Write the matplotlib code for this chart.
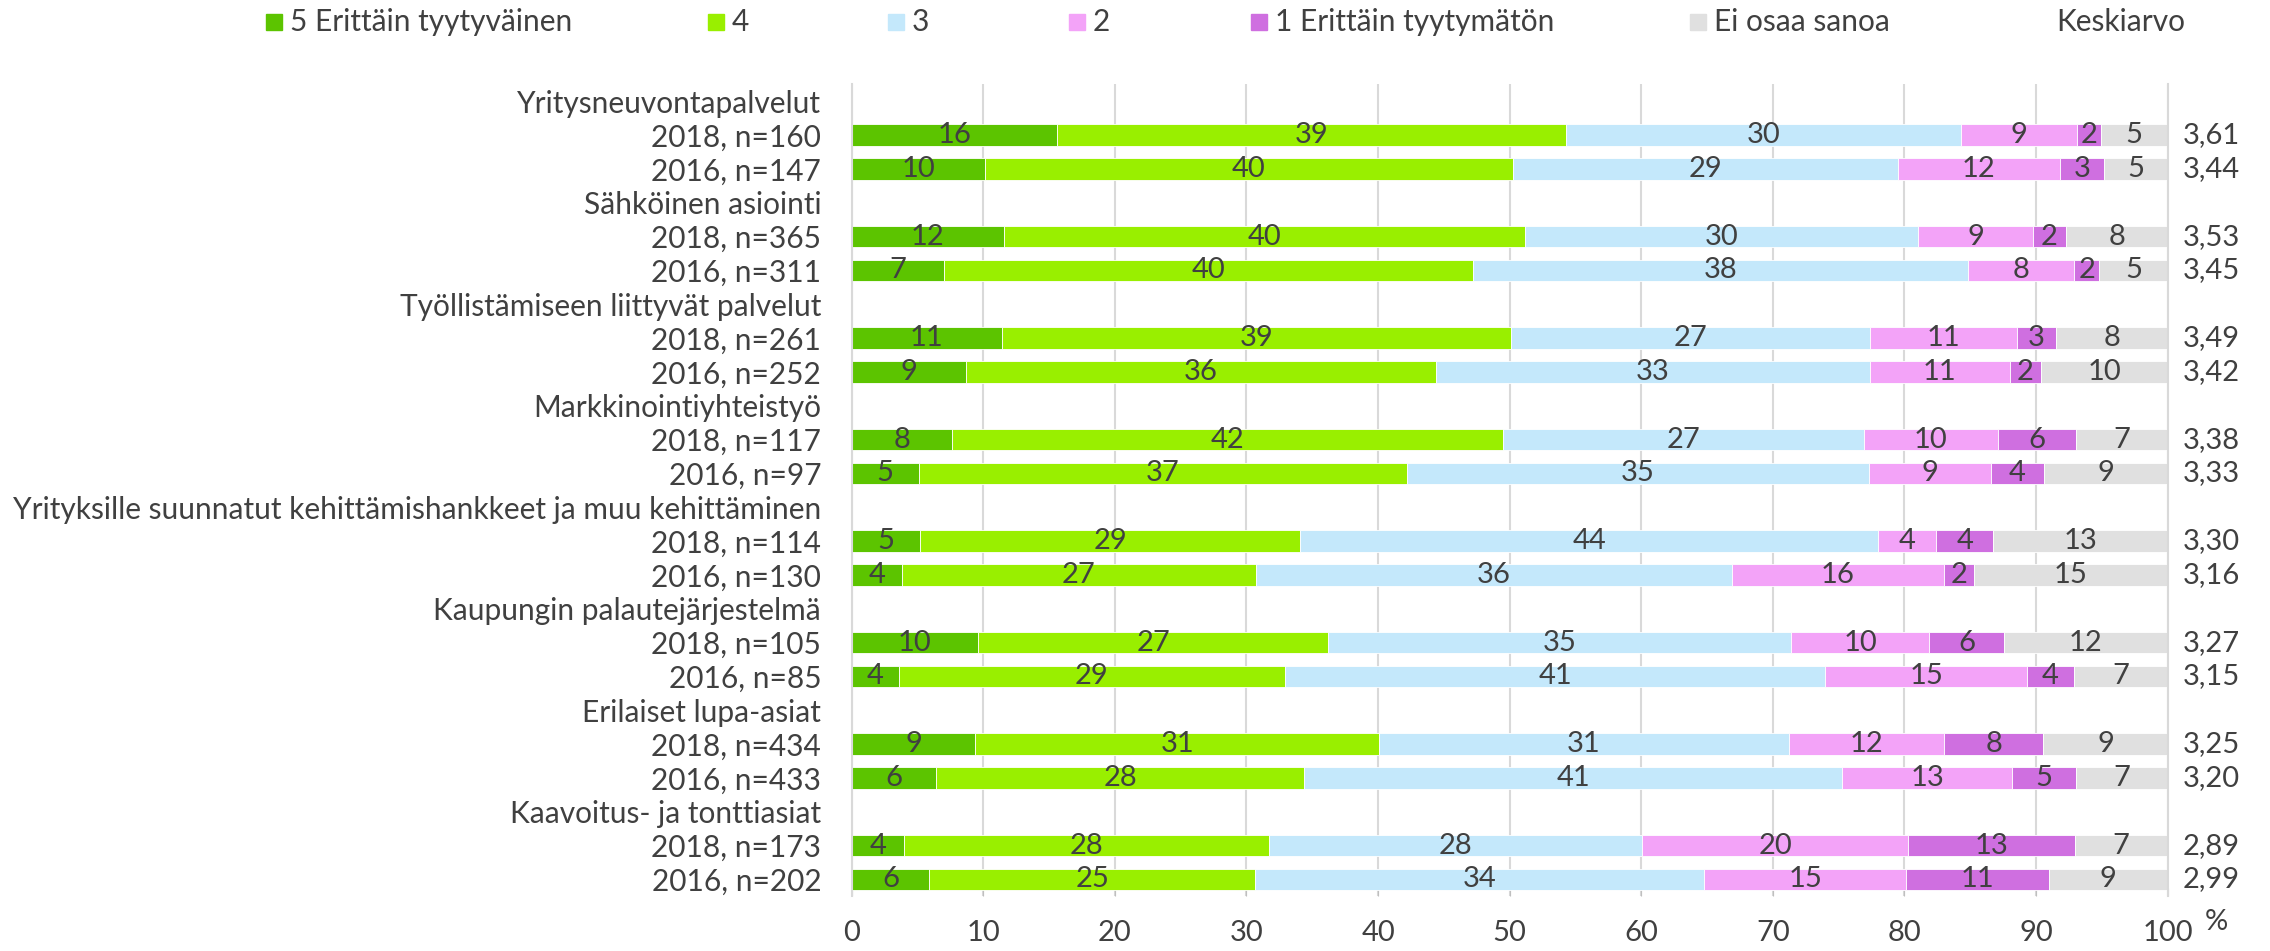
import matplotlib
matplotlib.use("Agg")
import matplotlib.pyplot as plt
from matplotlib.patches import Rectangle
from matplotlib.transforms import blended_transform_factory
import numpy as np

plt.rcParams['font.family'] = ['Lato', 'DejaVu Sans']

# Data (shares in %)
groups = ["Yritysneuvontapalvelut", "Sähköinen asiointi",
          "Työllistämiseen liittyvät palvelut", "Markkinointiyhteistyö",
          "Yrityksille suunnatut kehittämishankkeet ja muu kehittäminen",
          "Kaupungin palautejärjestelmä", "Erilaiset lupa-asiat",
          "Kaavoitus- ja tonttiasiat"]
bar_labels = ["2018, n=160", "2016, n=147", "2018, n=365", "2016, n=311",
              "2018, n=261", "2016, n=252", "2018, n=117", "2016, n=97",
              "2018, n=114", "2016, n=130", "2018, n=105", "2016, n=85",
              "2018, n=434", "2016, n=433", "2018, n=173", "2016, n=202"]
series_names = ["5 Erittäin tyytyväinen", "4", "3", "2",
                "1 Erittäin tyytymätön", "Ei osaa sanoa"]
v5 = [15.6, 10.1, 11.55, 7.0, 11.4, 8.7, 7.6, 5.1, 5.2, 3.8, 9.6, 3.6, 9.4, 6.4, 4.0, 5.9]
v4 = [38.7, 40.15, 39.65, 40.2, 38.7, 35.7, 41.9, 37.1, 28.9, 26.9, 26.6, 29.3, 30.7, 28.0, 27.7, 24.75]
v3 = [30.0, 29.25, 29.8, 37.6, 27.3, 32.95, 27.4, 35.1, 43.9, 36.2, 35.2, 41.1, 31.1, 40.85, 28.35, 34.15]
v2 = [8.8, 12.3, 8.8, 8.1, 11.15, 10.65, 10.2, 9.25, 4.4, 16.1, 10.5, 15.3, 11.8, 12.95, 20.25, 15.3]
v1 = [1.8, 3.4, 2.45, 1.9, 3.0, 2.4, 5.95, 4.05, 4.35, 2.3, 5.65, 3.6, 7.55, 4.8, 12.65, 10.9]
v0 = [5.1, 4.8, 7.75, 5.2, 8.45, 9.6, 6.95, 9.4, 13.25, 14.7, 12.45, 7.1, 9.45, 7.0, 7.05, 9.0]
means = [3.61, 3.44, 3.53, 3.45, 3.49, 3.42, 3.38, 3.33, 3.30, 3.16, 3.27, 3.15, 3.25, 3.20, 2.89, 2.99]

colors = ['#5cc400', '#99ef00', '#c4e8fb', '#f3a3f8', '#cf6fe0', '#e0e0e0']
txt = '#404040'
fs = 21.5    # text labels
fs_num = 21  # numbers

# row layout: group header row, then 2018 and 2016 bars
ypos = []
ylabels = []
for g, name in enumerate(groups):
    ylabels += [name, bar_labels[2 * g], bar_labels[2 * g + 1]]
    ypos += [3 * g + 1, 3 * g + 2]
ypos = np.array(ypos)

fig = plt.figure(figsize=(22.7, 9.51), dpi=100)
ax = fig.add_axes([0.3752, 0.0574, 0.5797, 0.8539])

left = np.zeros(len(v5))
for vals, col in zip([v5, v4, v3, v2, v1, v0], colors):
    vals = np.array(vals)
    ax.barh(ypos, vals, left=left, height=0.63, color=col,
            edgecolor='white', linewidth=0.6)
    for y, l, v in zip(ypos, left, vals):
        ax.text(l + v / 2, y, f"{round(v)}", ha='center', va='center',
                fontsize=fs_num, color=txt)
    left += vals

ax.set_xlim(0, 100)
ax.set_ylim(len(ylabels) - 0.5, -0.5)
ax.set_yticks(np.arange(len(ylabels)))
ax.set_yticklabels(ylabels, fontsize=fs, color=txt)
ax.tick_params(axis='y', length=0, pad=22)
ax.set_xticks(np.arange(0, 101, 10))
ax.tick_params(axis='x', direction='in', length=6, color='#bfbfbf',
               labelsize=fs_num, labelcolor=txt, pad=17)
ax.set_axisbelow(True)
ax.xaxis.grid(True, color='#d9d9d9', linewidth=1.5)
for s in ['top', 'bottom']:
    ax.spines[s].set_visible(False)
for s in ['left', 'right']:
    ax.spines[s].set_color('#d9d9d9')
    ax.spines[s].set_linewidth(1.5)

# mean values on the right
trans = blended_transform_factory(ax.transAxes, ax.transData)
for y, m in zip(ypos, means):
    ax.text(1.0117, y, f"{m:.2f}".replace('.', ','), transform=trans,
            ha='left', va='center', fontsize=fs_num, color=txt)

fig.text(2216 / 2270, 1 - 922 / 951, '%', fontsize=fs_num, color=txt,
         ha='center', va='center')

# legend
W, H = 2270, 951
sq_x = [266, 708, 888, 1069, 1251, 1690]
for x0, col, name in zip(sq_x, colors, series_names):
    fig.patches.append(Rectangle((x0 / W, 1 - 30 / H), 16 / W, 16 / H,
                                 transform=fig.transFigure, color=col))
    fig.text((x0 + 24) / W, 1 - 22 / H, name, fontsize=fs, color=txt,
             ha='left', va='center')
fig.text(2056 / W, 1 - 22 / H, 'Keskiarvo', fontsize=fs, color=txt,
         ha='left', va='center')

fig.savefig('out.png', dpi=100)
